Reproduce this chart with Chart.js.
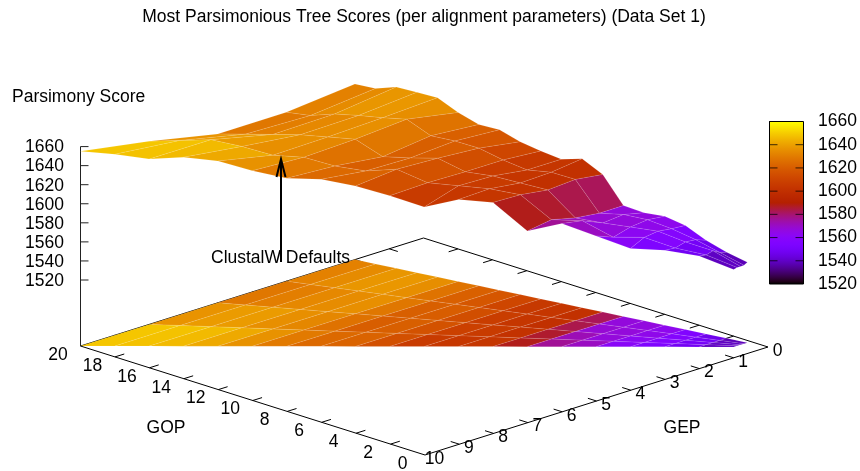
<!DOCTYPE html>
<html>
<head>
<meta charset="utf-8">
<title>Most Parsimonious Tree Scores</title>
<script src="https://cdn.jsdelivr.net/npm/chart.js@4/dist/chart.umd.min.js"></script>
<style>
html,body{margin:0;padding:0;background:#fff;}
#wrap{width:860px;height:471px;}
</style>
</head>
<body>
<div id="wrap"><canvas id="surfaceChart" width="860" height="471"></canvas></div>
<script>
// GOP runs 1..20, GEP is a ratio of GOP, so the grid is a fan rather than a rectangle
var gopValues = [1,2,3,4,5,6,7,8,9,10,11,12,13,14,15,16,17,18,19,20];
var gepRatios = [0.1,0.2,0.3,0.4,0.5];

var scoreR10 = [1535,1541,1549,1560,1565,1564,1567,1595,1607,1602,1606,1611,1619,1620,1628,1639,1640,1641,1635,1635];
var scoreR20 = [1533,1543,1553,1561,1567,1569,1567,1599,1603,1602,1609,1618,1622,1624,1638,1636,1635,1633,1628,1628];
var scoreR30 = [1533,1547,1554,1563,1565,1567,1570,1597,1602,1607,1609,1621,1619,1618,1634,1634,1634,1632,1630,1628];
var scoreR40 = [1533,1545,1551,1561,1560,1576,1576,1601,1606,1608,1610,1623,1620,1624,1632,1633,1641,1647,1645,1643];
var scoreR50 = [1532,1546,1552,1554,1567,1580,1572,1602,1605,1597,1609,1619,1626,1627,1635,1645,1649,1647,1652,1655];
var scoreRows = [scoreR10,scoreR20,scoreR30,scoreR40,scoreR50];

var gopTicks = [0,2,4,6,8,10,12,14,16,18,20];
var gepTicks = [0,1,2,3,4,5,6,7,8,9,10];
var scoreTicks = [1520,1540,1560,1580,1600,1620,1640,1660];
var scoreMin = 1520;
var scoreMax = 1660;

// view: same projection for every mark, (gop,gep,score) -> picture position
function project(gop,gep,score) {
  var u = gop/20, v = gep/10;
  var p = {x: 768 - 344.5*u - 343*v, y: 347 - 109*u + 108*v};
  if (score !== undefined) {
    p.y = p.y - 66 - (score-scoreMin)*0.953;
  }
  return p;
}

// gnuplot's default pm3d palette (rgbformulae 7,5,15)
function palette(score) {
  var t = (score-scoreMin)/(scoreMax-scoreMin);
  t = Math.max(0,Math.min(1,t));
  var r = Math.sqrt(t), g = t*t*t, b = Math.max(0,Math.sin(2*Math.PI*t));
  return 'rgb(' + Math.round(r*255) + ',' + Math.round(g*255) + ',' + Math.round(b*255) + ')';
}

var layers = [];

function addLine(points,width,color) {
  layers.push({data:points, showLine:true, borderColor:color, borderWidth:width, pointRadius:0, fill:false, tension:0});
}

function addPoly(points,color,edge,edgeWidth) {
  var closed = points.concat([points[0]]);
  layers.push({data:closed, showLine:true, backgroundColor:color, borderColor:edge, borderWidth:edgeWidth, pointRadius:0, fill:'shape', tension:0});
}

// back to front: sort quads on the depth of their footprint
var quads = [];
for (var i = 0; i < gopValues.length-1; i++) {
  for (var j = 0; j < gepRatios.length-1; j++) {
    var corners = [[i,j],[i+1,j],[i+1,j+1],[i,j+1]];
    var sum = 0, depth = 0;
    corners.forEach(function(c){
      sum += scoreRows[c[1]][c[0]];
      depth += project(gopValues[c[0]],gopValues[c[0]]*gepRatios[c[1]]).y;
    });
    quads.push({corners:corners, mean:sum/4, depth:depth});
  }
}
quads.sort(function(a,b){return a.depth-b.depth;});

function quadPoints(q,lifted) {
  return q.corners.map(function(c){
    var gop = gopValues[c[0]], gep = gop*gepRatios[c[1]];
    return lifted ? project(gop,gep,scoreRows[c[1]][c[0]]) : project(gop,gep);
  });
}

var seam = 'rgba(255,255,255,0.2)';

// back border and its ticks sit under the surface
addLine([project(20,10),project(20,0),project(0,0)],1,'#000');
gopTicks.slice(1,-1).forEach(function(g){
  var a = project(g,0);
  addLine([a,{x:a.x-9.3,y:a.y+2.9}],1,'#000');
});
gepTicks.slice(1,-1).forEach(function(e){
  var a = project(20,e);
  addLine([a,{x:a.x+8.6,y:a.y+2.7}],1,'#000');
});

quads.forEach(function(q){ addPoly(quadPoints(q,false),palette(q.mean),seam,0.5); });

// front border
addLine([project(20,10),project(0,10),project(0,0)],1,'#000');
gopTicks.slice(1,-1).forEach(function(g){
  var a = project(g,10);
  addLine([a,{x:a.x+9.3,y:a.y-2.9}],1,'#000');
});
gepTicks.slice(1,-1).forEach(function(e){
  var a = project(0,e);
  addLine([a,{x:a.x-8.6,y:a.y-2.7}],1,'#000');
});

// score axis
var zFoot = project(20,10);
addLine([zFoot,project(20,10,scoreMax)],1,'#222');
scoreTicks.forEach(function(s){
  var a = project(20,10,s);
  addLine([a,{x:a.x+8,y:a.y}],1,'#222');
});

quads.forEach(function(q){ addPoly(quadPoints(q,true),palette(q.mean),seam,0.5); });

// ClustalW Defaults arrow
var arrowX = 281, arrowTop = 159, arrowBottom = 262;
addLine([{x:arrowX,y:arrowBottom},{x:arrowX,y:arrowTop+2}],2,'#000');
addLine([{x:arrowX-4.5,y:arrowTop+18},{x:arrowX,y:arrowTop},{x:arrowX+4.5,y:arrowTop+18}],2,'#000');

// colour box, one rectangle with the palette as a gradient
var barLeft = 769.5, barRight = 803.5, barTop = 121.5, barBottom = 284;
function barY(s) { return barBottom - (s-scoreMin)/(scoreMax-scoreMin)*(barBottom-barTop); }
var barGradient = document.getElementById('surfaceChart').getContext('2d').createLinearGradient(0,barBottom,0,barTop);
for (var s = scoreMin; s <= scoreMax; s += 2) {
  barGradient.addColorStop((s-scoreMin)/(scoreMax-scoreMin),palette(s));
}
addPoly([{x:barLeft,y:barBottom},{x:barRight,y:barBottom},{x:barRight,y:barTop},{x:barLeft,y:barTop}],barGradient,'#000',1);
scoreTicks.slice(1,-1).forEach(function(s){
  addLine([{x:barLeft,y:barY(s)},{x:barLeft+8,y:barY(s)}],1,'rgba(0,0,0,0.75)');
  addLine([{x:barRight-8,y:barY(s)},{x:barRight,y:barY(s)}],1,'rgba(0,0,0,0.75)');
});

// chart.js paints dataset 0 last, so hand them over reversed
var datasets = layers.slice().reverse();

var texts = [];
var labelSize = 17.5;
texts.push({t:'Most Parsimonious Tree Scores (per alignment parameters) (Data Set 1)',x:424,y:17,a:'center'});
texts.push({t:'Parsimony Score',x:12,y:97,a:'left'});
texts.push({t:'ClustalW Defaults',x:211,y:258,a:'left'});
texts.push({t:'GOP',x:166,y:428,a:'center'});
texts.push({t:'GEP',x:682,y:428,a:'center'});
scoreTicks.forEach(function(s){
  texts.push({t:String(s),x:64,y:project(20,10,s).y+1,a:'right'});
  texts.push({t:String(s),x:818,y:barY(s),a:'left'});
});
gopTicks.forEach(function(g){
  var a = project(g,10);
  texts.push({t:String(g),x:a.x-22.5,y:a.y+9,a:'center'});
});
gepTicks.forEach(function(e){
  var a = project(0,e);
  texts.push({t:String(e),x:a.x+9.5,y:a.y+4,a:'center'});
});

var textPlugin = {
  id:'plotText',
  afterDatasetsDraw:function(chart){
    var ctx = chart.ctx, xs = chart.scales.x, ys = chart.scales.y;
    ctx.save();
    ctx.fillStyle = '#000';
    ctx.textBaseline = 'middle';
    ctx.font = labelSize + 'px "Liberation Sans", Arial, sans-serif';
    texts.forEach(function(d){
      ctx.textAlign = d.a;
      ctx.fillText(d.t,xs.getPixelForValue(d.x),ys.getPixelForValue(d.y));
    });
    ctx.restore();
  }
};

var surfaceChart = new Chart(document.getElementById('surfaceChart'),{
  type:'scatter',
  data:{datasets:datasets},
  plugins:[textPlugin],
  options:{
    responsive:false,
    animation:false,
    events:[],
    layout:{padding:0},
    plugins:{legend:{display:false},tooltip:{enabled:false},filler:{propagate:false}},
    scales:{
      x:{type:'linear',min:0,max:860,display:false},
      y:{type:'linear',min:0,max:471,reverse:true,display:false}
    }
  }
});
</script>
</body>
</html>
